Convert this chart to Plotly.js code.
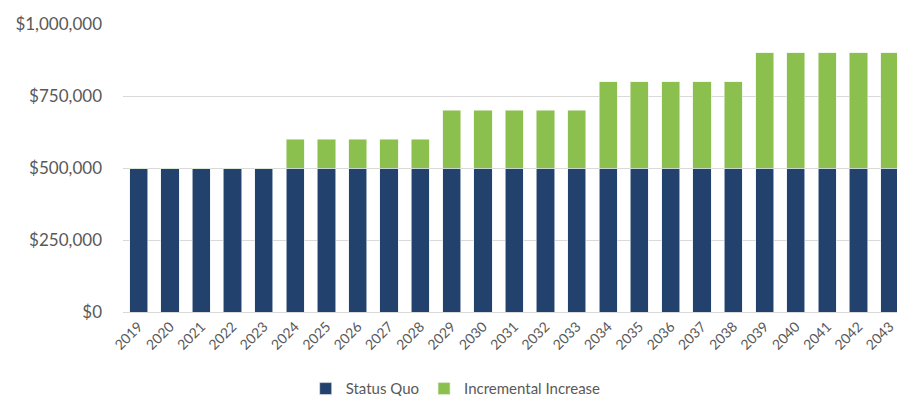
<!DOCTYPE html>
<html><head><meta charset="utf-8">
<script src="https://cdn.plot.ly/plotly-3.0.1.min.js"></script>
<style>html,body{margin:0;padding:0;overflow:hidden;background:#fff}</style>
</head><body>
<div id="chart" style="width:897px;height:396px"></div>
<script>
const years = ['2019','2020','2021','2022','2023','2024','2025','2026','2027','2028','2029','2030','2031','2032','2033','2034','2035','2036','2037','2038','2039','2040','2041','2042','2043'];
const statusQuo = [500000,500000,500000,500000,500000,500000,500000,500000,500000,500000,500000,500000,500000,500000,500000,500000,500000,500000,500000,500000,500000,500000,500000,500000,500000];
const incremental = [0,0,0,0,0,100000,100000,100000,100000,100000,200000,200000,200000,200000,200000,300000,300000,300000,300000,300000,400000,400000,400000,400000,400000];
const yTicks = [0,250000,500000,750000,1000000];
const yTickText = ['$0','$250,000','$500,000','$750,000','$1,000,000'];

const font = 'Lato, "Open Sans", sans-serif';
const data = [
  {type:'bar', name:'Status Quo', x:years, y:statusQuo, marker:{color:'#22416d', line:{color:'#e8edf3', width:0.6}}},
  {type:'bar', name:'Incremental Increase', x:years, y:incremental, marker:{color:'#8bc04f', line:{color:'#e8f2dc', width:0.6}}}
];
const layout = {
  width:897, height:396,
  barmode:'stack', bargap:0.42,
  margin:{l:123, r:0, t:24, b:84, autoexpand:false},
  paper_bgcolor:'#fff', plot_bgcolor:'#fff',
  font:{family:font, color:'#595959'},
  showlegend:true,
  legend:{orientation:'h', x:0.508, xanchor:'center', xref:'container', y:0.018, yanchor:'middle', yref:'container', font:{size:15, color:'#595959'}, traceorder:'normal', itemwidth:30},
  xaxis:{type:'category', range:[-0.5,24.23], tickangle:-45, tickfont:{size:14, color:'#595959'}, showgrid:false, showline:true, linecolor:'#d9d9d9', ticks:'', fixedrange:true, automargin:false},
  yaxis:{range:[0,1000000], tickvals:yTicks, ticktext:yTickText, tickfont:{size:17, color:'#595959'}, gridcolor:'#d9d9d9', zeroline:false, showline:false, ticks:'', ticklen:0, ticklabelstandoff:20, fixedrange:true, automargin:false}
};
Plotly.newPlot('chart', data, layout, {displayModeBar:false, staticPlot:true});
</script>
</body></html>
